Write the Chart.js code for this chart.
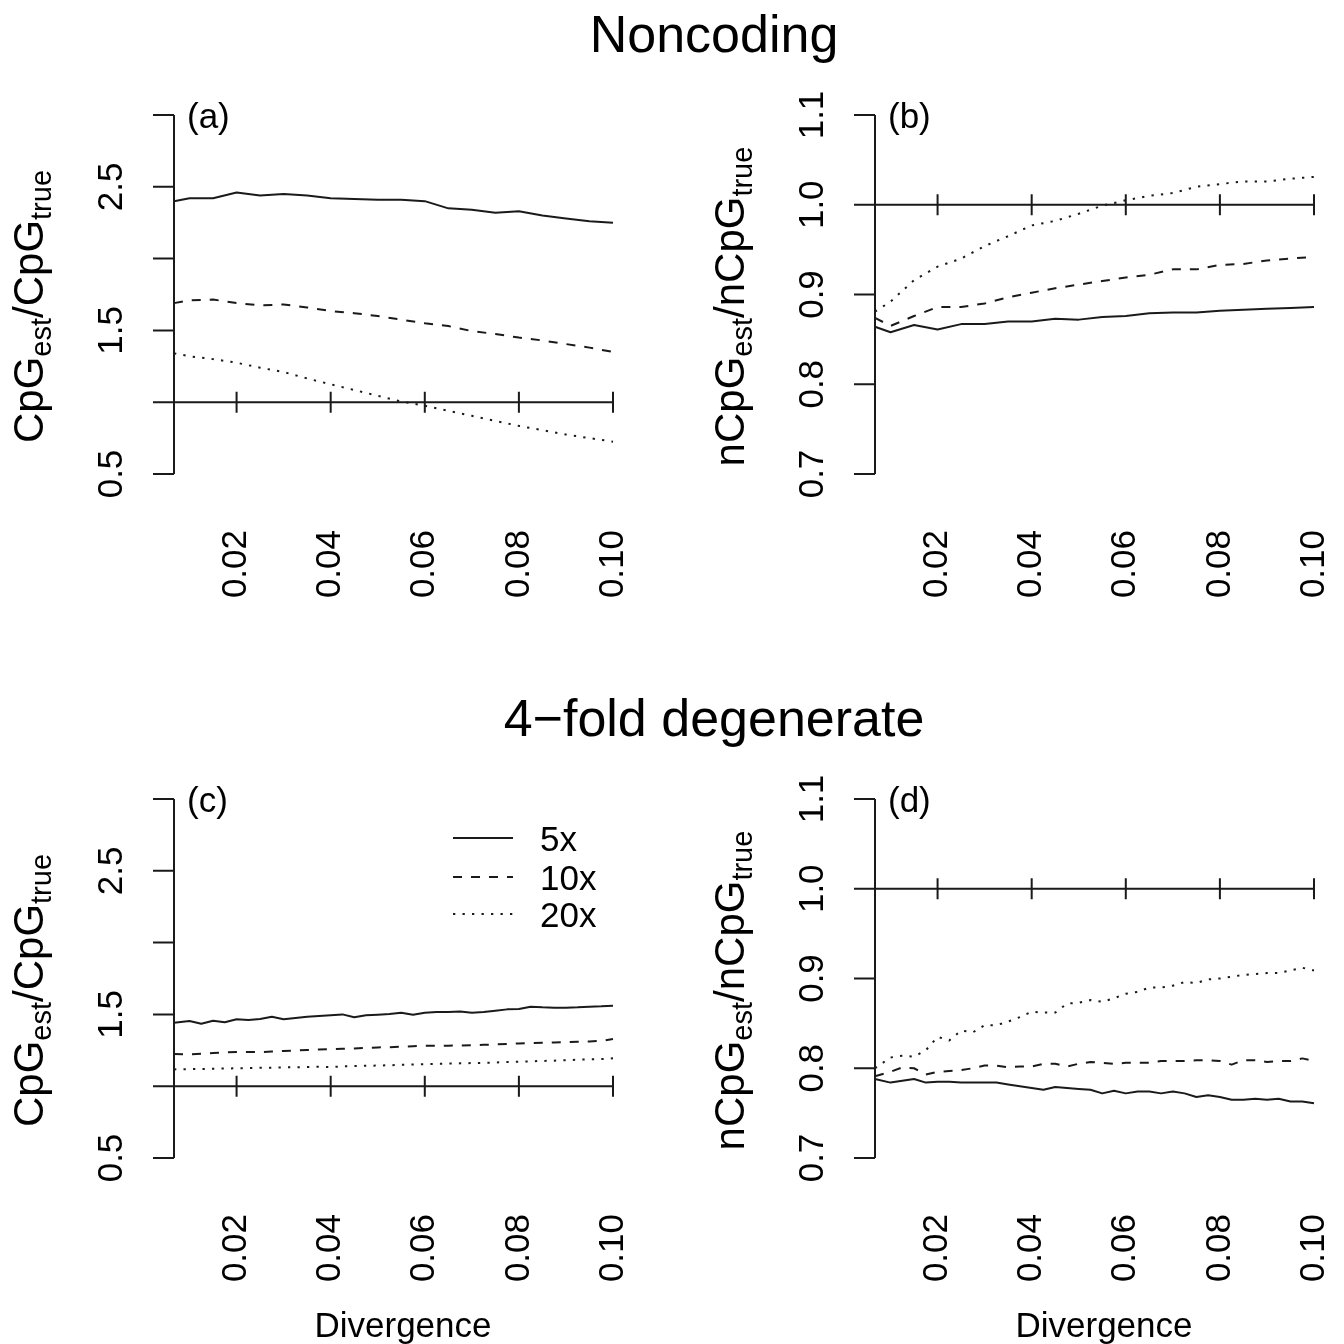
<!DOCTYPE html>
<html>
<head>
<meta charset="utf-8">
<script src="https://cdn.jsdelivr.net/npm/chart.js@4.4.1/dist/chart.umd.min.js"></script>
<style>
  html, body { margin: 0; padding: 0; background: #fff; }
  #wrap { position: relative; width: 1344px; height: 1344px; }
  #wrap canvas { position: absolute; left: 0; top: 0; }
</style>
</head>
<body>
<div id="wrap">
  <canvas id="pa" width="1344" height="1344"></canvas>
  <canvas id="pb" width="1344" height="1344"></canvas>
  <canvas id="pc" width="1344" height="1344"></canvas>
  <canvas id="pd" width="1344" height="1344"></canvas>
</div>
<script>
var FONT = '"Liberation Sans", Arimo, Arial, Helvetica, sans-serif';
var INK = '#1a1a1a';

// divergence values (x)
var xCoarse = [0.0067, 0.010, 0.015, 0.020, 0.025, 0.030, 0.035, 0.040, 0.045, 0.050,
               0.055, 0.060, 0.065, 0.070, 0.075, 0.080, 0.085, 0.090, 0.095, 0.100];
var xFine = [0.0067, 0.0100, 0.0125, 0.0150, 0.0175, 0.0200, 0.0225, 0.0250, 0.0275, 0.0300,
             0.0325, 0.0350, 0.0375, 0.0400, 0.0425, 0.0450, 0.0475, 0.0500, 0.0525, 0.0550,
             0.0575, 0.0600, 0.0625, 0.0650, 0.0675, 0.0700, 0.0725, 0.0750, 0.0775, 0.0800,
             0.0825, 0.0850, 0.0875, 0.0900, 0.0925, 0.0950, 0.0975, 0.1000];
var xMin = 0.0067, xMax = 0.10;
var xTicks = [0.02, 0.04, 0.06, 0.08, 0.10];
var xTickLabels = ['0.02', '0.04', '0.06', '0.08', '0.10'];

var seriesNames = ['5x', '10x', '20x'];
var dashes = [[], [9, 9], [2.3, 7.2]];

// (a) noncoding, CpG
var cpgNon5 = [2.40, 2.42, 2.42, 2.46, 2.44, 2.45, 2.44, 2.42, 2.415, 2.41,
               2.41, 2.40, 2.35, 2.34, 2.32, 2.33, 2.30, 2.28, 2.26, 2.25];
var cpgNon10 = [1.69, 1.71, 1.715, 1.69, 1.675, 1.68, 1.66, 1.635, 1.62, 1.60,
                1.575, 1.55, 1.53, 1.495, 1.475, 1.45, 1.43, 1.405, 1.38, 1.35];
var cpgNon20 = [1.34, 1.32, 1.30, 1.275, 1.24, 1.21, 1.165, 1.125, 1.085, 1.045,
                1.005, 0.975, 0.94, 0.905, 0.87, 0.835, 0.805, 0.775, 0.75, 0.725];

// (b) noncoding, non-CpG
var ncpgNon5 = [0.864, 0.858, 0.866, 0.861, 0.867, 0.867, 0.870, 0.870, 0.873, 0.872,
                0.875, 0.876, 0.879, 0.880, 0.880, 0.882, 0.883, 0.884, 0.885, 0.886];
var ncpgNon10 = [0.874, 0.865, 0.876, 0.886, 0.886, 0.890, 0.897, 0.902, 0.907, 0.911,
                 0.915, 0.919, 0.922, 0.928, 0.928, 0.933, 0.934, 0.938, 0.940, 0.942];
var ncpgNon20 = [0.881, 0.892, 0.916, 0.931, 0.940, 0.954, 0.965, 0.977, 0.982, 0.990,
                 0.999, 1.005, 1.010, 1.013, 1.020, 1.023, 1.026, 1.026, 1.029, 1.031];

// (c) 4-fold degenerate, CpG
var cpgDeg5 = [1.442, 1.454, 1.435, 1.456, 1.445, 1.466, 1.461, 1.468, 1.484, 1.466,
               1.475, 1.484, 1.489, 1.494, 1.500, 1.480, 1.494, 1.498, 1.503, 1.512,
               1.498, 1.512, 1.517, 1.517, 1.521, 1.512, 1.517, 1.526, 1.535, 1.538,
               1.554, 1.549, 1.547, 1.547, 1.549, 1.554, 1.556, 1.561];
var cpgDeg10 = [1.224, 1.222, 1.226, 1.231, 1.235, 1.238, 1.238, 1.238, 1.241, 1.245,
                1.248, 1.252, 1.255, 1.259, 1.261, 1.263, 1.266, 1.270, 1.272, 1.275,
                1.278, 1.282, 1.282, 1.282, 1.284, 1.286, 1.288, 1.291, 1.294, 1.298,
                1.300, 1.303, 1.305, 1.307, 1.309, 1.312, 1.316, 1.328];
var cpgDeg20 = [1.117, 1.119, 1.120, 1.122, 1.123, 1.125, 1.126, 1.128, 1.129, 1.131,
                1.132, 1.134, 1.135, 1.133, 1.138, 1.140, 1.142, 1.144, 1.146, 1.149,
                1.151, 1.154, 1.156, 1.158, 1.159, 1.161, 1.163, 1.165, 1.168, 1.171,
                1.173, 1.176, 1.178, 1.181, 1.184, 1.187, 1.189, 1.194];

// (d) 4-fold degenerate, non-CpG
var ncpgDeg5 = [0.788, 0.784, 0.786, 0.788, 0.784, 0.785, 0.785, 0.784, 0.784, 0.784,
                0.784, 0.782, 0.780, 0.778, 0.776, 0.779, 0.778, 0.777, 0.776, 0.772,
                0.775, 0.772, 0.774, 0.774, 0.772, 0.774, 0.772, 0.768, 0.770, 0.768,
                0.765, 0.765, 0.766, 0.765, 0.766, 0.763, 0.763, 0.761];
var ncpgDeg10 = [0.791, 0.796, 0.801, 0.800, 0.793, 0.796, 0.797, 0.798, 0.800, 0.803,
                 0.803, 0.801, 0.802, 0.802, 0.805, 0.805, 0.802, 0.805, 0.807, 0.806,
                 0.805, 0.806, 0.806, 0.806, 0.808, 0.808, 0.808, 0.809, 0.809, 0.808,
                 0.804, 0.809, 0.809, 0.807, 0.808, 0.808, 0.811, 0.808];
var ncpgDeg20 = [0.800, 0.812, 0.814, 0.813, 0.820, 0.835, 0.831, 0.842, 0.840, 0.848,
                 0.848, 0.852, 0.857, 0.863, 0.862, 0.862, 0.872, 0.873, 0.876, 0.874,
                 0.878, 0.883, 0.885, 0.890, 0.890, 0.892, 0.896, 0.895, 0.899, 0.900,
                 0.902, 0.904, 0.905, 0.906, 0.906, 0.909, 0.912, 0.909];

var cpgTicks = [0.5, 1.0, 1.5, 2.0, 2.5, 3.0];
var cpgTickLabels = ['0.5', '', '1.5', '', '2.5', ''];
var ncpgTicks = [0.7, 0.8, 0.9, 1.0, 1.1];
var ncpgTickLabels = ['0.7', '0.8', '0.9', '1.0', '1.1'];

var cpgYLabel = [['CpG', 0], ['est', 1], ['/', 0], ['CpG', 0], ['true', 1]];
var ncpgYLabel = [['nCpG', 0], ['est', 1], ['/', 0], ['nCpG', 0], ['true', 1]];

function rotText(ctx, text, x, y, align, base) {
  ctx.save();
  ctx.translate(x, y);
  ctx.rotate(-Math.PI / 2);
  ctx.textAlign = align;
  ctx.textBaseline = base;
  ctx.fillText(text, 0, 0);
  ctx.restore();
}

function yLabel(ctx, parts, x, y) {
  var big = '42px ' + FONT, small = '29px ' + FONT;
  ctx.save();
  ctx.translate(x, y);
  ctx.rotate(-Math.PI / 2);
  ctx.textAlign = 'left';
  ctx.textBaseline = 'alphabetic';
  var w = 0;
  parts.forEach(function (p) { ctx.font = p[1] ? small : big; w += ctx.measureText(p[0]).width; });
  var cx = -w / 2;
  parts.forEach(function (p) {
    ctx.font = p[1] ? small : big;
    ctx.fillText(p[0], cx, p[1] ? 8 : 0);
    cx += ctx.measureText(p[0]).width;
  });
  ctx.restore();
}

var panelAxes = {
  id: 'panelAxes',
  afterDraw: function (chart, args, o) {
    var ctx = chart.ctx, xs = chart.scales.x, ys = chart.scales.y;
    var L = chart.chartArea.left, B = chart.chartArea.bottom;
    ctx.save();
    ctx.strokeStyle = INK;
    ctx.fillStyle = '#000';
    ctx.lineWidth = 2;
    ctx.lineCap = 'butt';

    // y axis
    var yTop = ys.getPixelForValue(o.yTicks[o.yTicks.length - 1]);
    var yBot = ys.getPixelForValue(o.yTicks[0]);
    ctx.beginPath();
    ctx.moveTo(L, yTop); ctx.lineTo(L, yBot);
    o.yTicks.forEach(function (v) {
      var py = ys.getPixelForValue(v);
      ctx.moveTo(L - 21, py); ctx.lineTo(L, py);
    });
    // reference line at 1 with crossing ticks
    var py1 = ys.getPixelForValue(1.0);
    ctx.moveTo(L, py1); ctx.lineTo(xs.getPixelForValue(xTicks[xTicks.length - 1]), py1);
    xTicks.forEach(function (v) {
      var px = xs.getPixelForValue(v);
      ctx.moveTo(px, py1 - 10.5); ctx.lineTo(px, py1 + 10.5);
    });
    ctx.stroke();

    ctx.font = '35px ' + FONT;
    o.yTicks.forEach(function (v, i) {
      if (o.yTickLabels[i]) rotText(ctx, o.yTickLabels[i], L - 52, ys.getPixelForValue(v), 'center', 'alphabetic');
    });
    xTicks.forEach(function (v, i) {
      rotText(ctx, xTickLabels[i], xs.getPixelForValue(v), B + 56, 'right', 'middle');
    });

    // panel tag
    ctx.textAlign = 'left';
    ctx.textBaseline = 'middle';
    ctx.fillText(o.tag, L + 13, ys.getPixelForValue(o.yTicks[o.yTicks.length - 1]) + 3);

    yLabel(ctx, o.yLabel, L - 131, (yTop + yBot) / 2 + 12);

    if (o.xLabel) {
      ctx.font = '35px ' + FONT;
      ctx.textAlign = 'center';
      ctx.textBaseline = 'alphabetic';
      ctx.fillText(o.xLabel, L + 229, B + 179);
    }
    if (o.title) {
      ctx.font = '52px ' + FONT;
      ctx.textAlign = 'center';
      ctx.textBaseline = 'alphabetic';
      ctx.fillText(o.title, 714, yTop - 63);
    }
    if (o.legend) {
      var lx = 453, ly = [838, 877, 914];
      seriesNames.forEach(function (name, i) {
        ctx.setLineDash(dashes[i]);
        ctx.beginPath();
        ctx.moveTo(lx, ly[i]); ctx.lineTo(lx + 60, ly[i]);
        ctx.stroke();
        ctx.setLineDash([]);
        ctx.font = '35px ' + FONT;
        ctx.textAlign = 'left';
        ctx.textBaseline = 'middle';
        ctx.fillText(name, 540, ly[i] + 3);
      });
    }
    ctx.restore();
  }
};

function makePanel(id, xs, series, box, opts) {
  new Chart(document.getElementById(id), {
    type: 'line',
    data: {
      datasets: series.map(function (s, i) {
        return {
          label: seriesNames[i],
          data: xs.map(function (x, j) { return { x: x, y: s[j] }; }),
          borderColor: INK,
          borderWidth: 2,
          borderDash: dashes[i],
          borderJoinStyle: 'round',
          pointRadius: 0,
          tension: 0,
          fill: false,
          clip: false
        };
      })
    },
    options: {
      responsive: false,
      animation: false,
      layout: { padding: { left: box[0], top: box[1], right: 1344 - box[2], bottom: 1344 - box[3] } },
      scales: {
        x: { type: 'linear', display: false, min: xMin, max: xMax },
        y: { type: 'linear', display: false, min: opts.yTicks[0], max: opts.yTicks[opts.yTicks.length - 1] }
      },
      plugins: { legend: { display: false }, tooltip: { enabled: false }, panelAxes: opts }
    },
    plugins: [panelAxes]
  });
}

makePanel('pa', xCoarse, [cpgNon5, cpgNon10, cpgNon20], [174, 115, 613, 474],
  { yTicks: cpgTicks, yTickLabels: cpgTickLabels, yLabel: cpgYLabel, tag: '(a)', title: 'Noncoding' });
makePanel('pb', xCoarse, [ncpgNon5, ncpgNon10, ncpgNon20], [875, 115, 1314, 474],
  { yTicks: ncpgTicks, yTickLabels: ncpgTickLabels, yLabel: ncpgYLabel, tag: '(b)' });
makePanel('pc', xFine, [cpgDeg5, cpgDeg10, cpgDeg20], [174, 799, 613, 1158],
  { yTicks: cpgTicks, yTickLabels: cpgTickLabels, yLabel: cpgYLabel, tag: '(c)', title: '4\u2212fold degenerate', xLabel: 'Divergence', legend: true });
makePanel('pd', xFine, [ncpgDeg5, ncpgDeg10, ncpgDeg20], [875, 799, 1314, 1158],
  { yTicks: ncpgTicks, yTickLabels: ncpgTickLabels, yLabel: ncpgYLabel, tag: '(d)', xLabel: 'Divergence' });
</script>
</body>
</html>
